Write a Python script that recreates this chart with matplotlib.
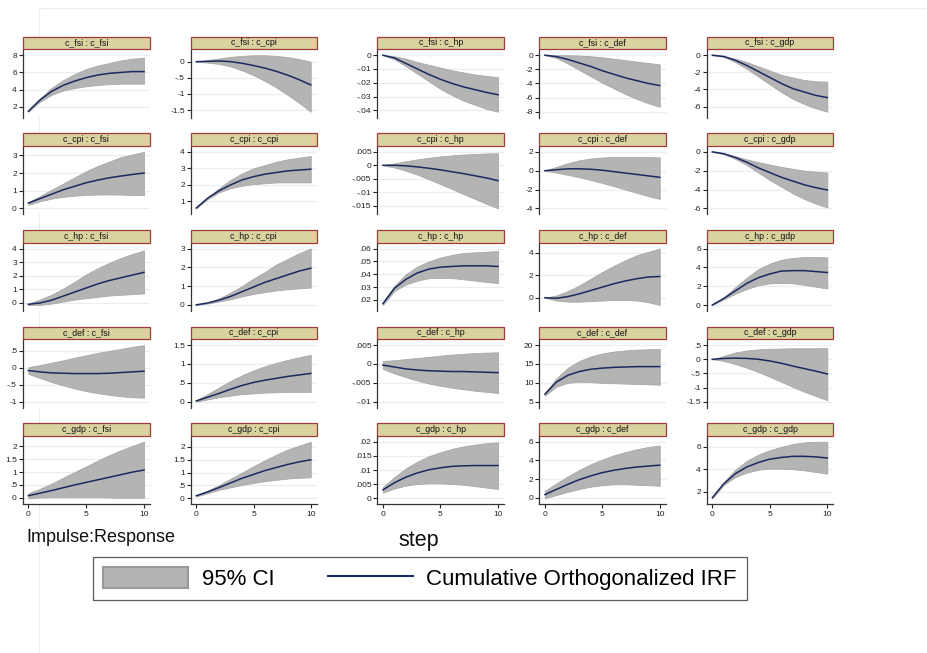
import matplotlib
matplotlib.use("Agg")
import matplotlib.pyplot as plt
from matplotlib.patches import Rectangle, Patch
from matplotlib.lines import Line2D

plt.rcParams['font.family'] = ['Liberation Sans', 'DejaVu Sans']

# ---------------- data ----------------
steps = [0, 1, 2, 3, 4, 5, 6, 7, 8, 9, 10]
variables = ["c_fsi", "c_cpi", "c_hp", "c_def", "c_gdp"]

# impulse c_fsi
fsi_fsi_irf = [1.5, 2.8, 3.8, 4.5, 5.0, 5.4, 5.7, 5.9, 6.0, 6.1, 6.1]
fsi_fsi_lo = [1.45, 2.6, 3.4, 3.9, 4.2, 4.4, 4.55, 4.65, 4.7, 4.7, 4.7]
fsi_fsi_hi = [1.55, 3.0, 4.2, 5.1, 5.8, 6.4, 6.8, 7.1, 7.4, 7.6, 7.7]
fsi_fsi_ticks = ["2", "4", "6", "8"]

fsi_cpi_irf = [0, 0.01, 0.02, 0.0, -0.05, -0.12, -0.2, -0.3, -0.42, -0.56, -0.72]
fsi_cpi_lo = [0, -0.03, -0.07, -0.15, -0.27, -0.42, -0.6, -0.8, -1.03, -1.28, -1.55]
fsi_cpi_hi = [0, 0.05, 0.1, 0.15, 0.18, 0.2, 0.2, 0.18, 0.14, 0.08, 0.0]
fsi_cpi_ticks = ["0", "-.5", "-1", "-1.5"]

fsi_hp_irf = [0, -0.002, -0.006, -0.010, -0.014, -0.0175, -0.0205, -0.023, -0.025, -0.027, -0.0287]
fsi_hp_lo = [0, -0.003, -0.008, -0.0135, -0.019, -0.0245, -0.029, -0.033, -0.036, -0.039, -0.041]
fsi_hp_hi = [0, -0.0008, -0.0025, -0.005, -0.007, -0.009, -0.011, -0.0125, -0.014, -0.015, -0.016]
fsi_hp_ticks = ["0", "-.01", "-.02", "-.03", "-.04"]

fsi_def_irf = [0, -0.2, -0.6, -1.1, -1.6, -2.2, -2.7, -3.2, -3.6, -4.0, -4.3]
fsi_def_lo = [0, -0.4, -1.2, -2.1, -3.0, -3.9, -4.7, -5.5, -6.2, -6.8, -7.3]
fsi_def_hi = [0, 0, 0, -0.05, -0.15, -0.3, -0.5, -0.7, -0.9, -1.1, -1.3]
fsi_def_ticks = ["0", "-2", "-4", "-6", "-8"]

fsi_gdp_irf = [0, -0.15, -0.6, -1.2, -1.9, -2.6, -3.3, -3.9, -4.3, -4.7, -4.95]
fsi_gdp_lo = [0, -0.2, -0.8, -1.6, -2.5, -3.4, -4.3, -5.1, -5.7, -6.2, -6.6]
fsi_gdp_hi = [0, -0.1, -0.4, -0.8, -1.3, -1.8, -2.3, -2.6, -2.9, -3.05, -3.1]
fsi_gdp_ticks = ["0", "-2", "-4", "-6"]

# impulse c_cpi
cpi_fsi_irf = [0.3, 0.55, 0.8, 1.05, 1.25, 1.45, 1.6, 1.73, 1.83, 1.92, 2.0]
cpi_fsi_lo = [0.2, 0.4, 0.55, 0.65, 0.72, 0.76, 0.78, 0.79, 0.78, 0.76, 0.75]
cpi_fsi_hi = [0.35, 0.7, 1.05, 1.4, 1.75, 2.1, 2.4, 2.65, 2.9, 3.05, 3.2]
cpi_fsi_ticks = ["0", "1", "2", "3"]

cpi_cpi_irf = [0.6, 1.2, 1.65, 2.0, 2.3, 2.5, 2.65, 2.75, 2.85, 2.9, 2.95]
cpi_cpi_lo = [0.58, 1.15, 1.55, 1.8, 1.95, 2.05, 2.1, 2.15, 2.15, 2.15, 2.15]
cpi_cpi_hi = [0.62, 1.25, 1.8, 2.3, 2.7, 3.0, 3.2, 3.4, 3.55, 3.65, 3.75]
cpi_cpi_ticks = ["1", "2", "3", "4"]

cpi_hp_irf = [0, 0, -0.0002, -0.0006, -0.0011, -0.0017, -0.0024, -0.0031, -0.0039, -0.0047, -0.0057]
cpi_hp_lo = [0, -0.0008, -0.002, -0.0035, -0.0052, -0.007, -0.0088, -0.0107, -0.0125, -0.0143, -0.016]
cpi_hp_hi = [0, 0.0007, 0.0015, 0.0022, 0.0028, 0.0033, 0.0037, 0.004, 0.0042, 0.0044, 0.0045]
cpi_hp_ticks = [".005", "0", "-.005", "-.01", "-.015"]

cpi_def_irf = [0, 0.1, 0.2, 0.2, 0.15, 0.05, -0.1, -0.25, -0.4, -0.55, -0.7]
cpi_def_lo = [0, -0.2, -0.45, -0.7, -1.0, -1.3, -1.65, -2.0, -2.35, -2.7, -3.0]
cpi_def_hi = [0, 0.4, 0.8, 1.1, 1.3, 1.4, 1.45, 1.45, 1.45, 1.45, 1.4]
cpi_def_ticks = ["2", "0", "-2", "-4"]

cpi_gdp_irf = [0, -0.2, -0.6, -1.1, -1.7, -2.2, -2.7, -3.1, -3.5, -3.8, -4.05]
cpi_gdp_lo = [0, -0.25, -0.75, -1.4, -2.2, -3.0, -3.7, -4.4, -5.0, -5.5, -5.9]
cpi_gdp_hi = [0, -0.15, -0.45, -0.8, -1.1, -1.35, -1.6, -1.8, -2.0, -2.1, -2.2]
cpi_gdp_ticks = ["0", "-2", "-4", "-6"]

# impulse c_hp
hp_fsi_irf = [-0.1, 0.0, 0.2, 0.5, 0.8, 1.1, 1.4, 1.65, 1.85, 2.05, 2.25]
hp_fsi_lo = [-0.15, -0.15, -0.05, 0.1, 0.25, 0.35, 0.45, 0.55, 0.6, 0.65, 0.7]
hp_fsi_hi = [-0.05, 0.25, 0.6, 1.05, 1.55, 2.1, 2.55, 2.95, 3.3, 3.6, 3.85]
hp_fsi_ticks = ["0", "1", "2", "3", "4"]

hp_cpi_irf = [0, 0.1, 0.25, 0.45, 0.7, 0.95, 1.2, 1.4, 1.6, 1.8, 1.95]
hp_cpi_lo = [-0.01, 0.07, 0.18, 0.3, 0.45, 0.58, 0.68, 0.77, 0.83, 0.88, 0.92]
hp_cpi_hi = [0.01, 0.12, 0.35, 0.65, 1.0, 1.4, 1.75, 2.15, 2.45, 2.75, 3.0]
hp_cpi_ticks = ["0", "1", "2", "3"]

hp_hp_irf = [0.017, 0.029, 0.036, 0.041, 0.044, 0.0455, 0.046, 0.0465, 0.0465, 0.0465, 0.046]
hp_hp_lo = [0.016, 0.027, 0.032, 0.035, 0.037, 0.037, 0.037, 0.036, 0.035, 0.034, 0.033]
hp_hp_hi = [0.018, 0.031, 0.040, 0.046, 0.050, 0.053, 0.055, 0.0565, 0.057, 0.0575, 0.058]
hp_hp_ticks = [".02", ".03", ".04", ".05", ".06"]

hp_def_irf = [0, -0.05, 0.1, 0.35, 0.65, 0.95, 1.25, 1.5, 1.7, 1.85, 1.9]
hp_def_lo = [0, -0.25, -0.35, -0.35, -0.3, -0.25, -0.2, -0.2, -0.25, -0.4, -0.65]
hp_def_hi = [0, 0.2, 0.6, 1.1, 1.7, 2.3, 2.85, 3.35, 3.8, 4.1, 4.4]
hp_def_ticks = ["0", "2", "4"]

hp_gdp_irf = [0, 0.7, 1.5, 2.3, 2.9, 3.3, 3.6, 3.65, 3.65, 3.55, 3.45]
hp_gdp_lo = [0, 0.6, 1.2, 1.7, 2.1, 2.3, 2.35, 2.3, 2.15, 1.95, 1.75]
hp_gdp_hi = [0, 0.8, 1.9, 2.9, 3.8, 4.4, 4.8, 5.0, 5.1, 5.1, 5.05]
hp_gdp_ticks = ["0", "2", "4", "6"]

# impulse c_def
def_fsi_irf = [-0.08, -0.12, -0.15, -0.16, -0.17, -0.17, -0.17, -0.16, -0.14, -0.12, -0.1]
def_fsi_lo = [-0.18, -0.3, -0.42, -0.52, -0.61, -0.69, -0.75, -0.8, -0.84, -0.87, -0.88]
def_fsi_hi = [0.02, 0.08, 0.15, 0.22, 0.3, 0.37, 0.44, 0.5, 0.56, 0.62, 0.67]
def_fsi_ticks = [".5", "0", "-.5", "-1"]

def_cpi_irf = [0.02, 0.12, 0.22, 0.33, 0.43, 0.51, 0.57, 0.62, 0.67, 0.71, 0.75]
def_cpi_lo = [0.0, 0.06, 0.12, 0.16, 0.2, 0.22, 0.24, 0.25, 0.26, 0.26, 0.26]
def_cpi_hi = [0.04, 0.2, 0.38, 0.55, 0.7, 0.83, 0.94, 1.03, 1.11, 1.18, 1.24]
def_cpi_ticks = ["0", ".5", "1", "1.5"]

def_hp_irf = [-0.0003, -0.0008, -0.0013, -0.0016, -0.0018, -0.0019, -0.002, -0.002, -0.0021, -0.0022, -0.0023]
def_hp_lo = [-0.0013, -0.0025, -0.0035, -0.0044, -0.0052, -0.0058, -0.0063, -0.0067, -0.0071, -0.0074, -0.0077]
def_hp_hi = [0.0008, 0.001, 0.0013, 0.0016, 0.0019, 0.0022, 0.0025, 0.0027, 0.0029, 0.003, 0.0031]
def_hp_ticks = [".005", "0", "-.005", "-.01"]

def_def_irf = [7.0, 10.2, 12.0, 13.0, 13.6, 13.9, 14.1, 14.2, 14.3, 14.3, 14.3]
def_def_lo = [6.6, 9.0, 10.0, 10.3, 10.2, 10.0, 9.9, 9.8, 9.7, 9.6, 9.5]
def_def_hi = [7.2, 11.2, 14.0, 15.8, 17.0, 17.8, 18.3, 18.6, 18.8, 18.9, 19.0]
def_def_ticks = ["5", "10", "15", "20"]

def_gdp_irf = [0, 0.03, 0.04, 0.03, 0.0, -0.06, -0.14, -0.24, -0.33, -0.42, -0.52]
def_gdp_lo = [0, -0.06, -0.17, -0.3, -0.45, -0.62, -0.8, -0.98, -1.15, -1.3, -1.45]
def_gdp_hi = [0, 0.12, 0.24, 0.31, 0.35, 0.37, 0.38, 0.39, 0.39, 0.39, 0.4]
def_gdp_ticks = [".5", "0", "-.5", "-1", "-1.5"]

# impulse c_gdp
gdp_fsi_irf = [0.08, 0.18, 0.28, 0.39, 0.5, 0.6, 0.7, 0.8, 0.9, 1.0, 1.08]
gdp_fsi_lo = [-0.02, 0.01, 0.02, 0.02, 0.02, 0.02, 0.02, 0.01, 0.0, 0.0, 0.0]
gdp_fsi_hi = [0.18, 0.35, 0.55, 0.78, 1.0, 1.22, 1.45, 1.66, 1.85, 2.02, 2.18]
gdp_fsi_ticks = ["0", ".5", "1", "1.5", "2"]

gdp_cpi_irf = [0.1, 0.25, 0.42, 0.6, 0.78, 0.93, 1.08, 1.2, 1.32, 1.42, 1.5]
gdp_cpi_lo = [0.07, 0.2, 0.33, 0.43, 0.52, 0.6, 0.67, 0.72, 0.77, 0.8, 0.82]
gdp_cpi_hi = [0.13, 0.3, 0.52, 0.76, 1.0, 1.25, 1.48, 1.7, 1.9, 2.05, 2.2]
gdp_cpi_ticks = ["0", ".5", "1", "1.5", "2"]

gdp_hp_irf = [0.003, 0.0055, 0.0075, 0.009, 0.0101, 0.0108, 0.0113, 0.0115, 0.0116, 0.0116, 0.0116]
gdp_hp_lo = [0.002, 0.0035, 0.0045, 0.0051, 0.0053, 0.0053, 0.0051, 0.0048, 0.0043, 0.0038, 0.0033]
gdp_hp_hi = [0.004, 0.0075, 0.0106, 0.013, 0.0149, 0.0163, 0.0175, 0.0184, 0.019, 0.0195, 0.0198]
gdp_hp_ticks = ["0", ".005", ".01", ".015", ".02"]

gdp_def_irf = [0.35, 0.9, 1.45, 1.95, 2.35, 2.7, 2.95, 3.15, 3.3, 3.4, 3.5]
gdp_def_lo = [-0.05, 0.3, 0.65, 0.95, 1.2, 1.35, 1.45, 1.45, 1.4, 1.35, 1.3]
gdp_def_hi = [0.75, 1.55, 2.3, 3.0, 3.6, 4.1, 4.55, 4.9, 5.2, 5.45, 5.6]
gdp_def_ticks = ["0", "2", "4", "6"]

gdp_gdp_irf = [1.45, 2.7, 3.6, 4.2, 4.6, 4.9, 5.05, 5.15, 5.15, 5.1, 5.0]
gdp_gdp_lo = [1.4, 2.6, 3.3, 3.7, 3.95, 4.05, 4.05, 4.0, 3.9, 3.75, 3.6]
gdp_gdp_hi = [1.5, 2.85, 3.95, 4.75, 5.3, 5.7, 6.0, 6.25, 6.4, 6.45, 6.45]
gdp_gdp_ticks = ["2", "4", "6"]

x_ticks = [0, 5, 10]

g = globals()
panels = {}
for imp in variables:
    for resp in variables:
        a, b = imp[2:], resp[2:]
        panels[(imp, resp)] = (g[f"{a}_{b}_irf"], g[f"{a}_{b}_lo"],
                               g[f"{a}_{b}_hi"], g[f"{a}_{b}_ticks"])

# ---------------- layout / style ----------------
W, H = 928, 653
fig = plt.figure(figsize=(W / 100, H / 100), dpi=100)
fig.patch.set_facecolor("white")

col_left = [22.7, 190.7, 377.3, 539.3, 706.7]
col_right = [150.0, 316.7, 504.0, 665.7, 833.3]
strip_top0, row_pitch = 36.7, 96.65
strip_h, ax_h = 12.5, 68.5

band_color = "#B4B4B4"
band_edge = "#A8A8A8"
line_color = "#1B2A5E"
grid_color = "#E6EFF1"
strip_face = "#D9D3A0"
strip_edge = "#A33A3A"
axis_color = "#333333"

# faint outer frame lines
fig.add_artist(Line2D([39.5 / W, 39.5 / W], [0, 1 - 8 / H], color="#ECECEC", lw=0.8, zorder=-5))
fig.add_artist(Line2D([39.5 / W, 1], [1 - 8 / H, 1 - 8 / H], color="#ECECEC", lw=0.8, zorder=-5))

for i, imp in enumerate(variables):
    for j, resp in enumerate(variables):
        irf, lo, hi, tks = panels[(imp, resp)]
        left, right = col_left[j], col_right[j]
        top = strip_top0 + row_pitch * i + strip_h
        bottom = top + ax_h
        ax = fig.add_axes([left / W, 1 - bottom / H, (right - left) / W, ax_h / H])
        ax.set_facecolor("white")
        ax.fill_between(steps, lo, hi, facecolor=band_color, edgecolor=band_edge,
                        lw=0.6, zorder=2)
        ax.plot(steps, irf, color=line_color, lw=1.1, zorder=3)

        yt = [float(s) for s in tks]
        dmin = min(min(lo), min(yt))
        dmax = max(max(hi), max(yt))
        pad = (dmax - dmin) * 6.0 / (ax_h - 12.0)
        ax.set_ylim(dmin - pad, dmax + pad)
        ax.set_xlim(-0.49, 10.52)
        ax.set_yticks(yt)
        ax.set_yticklabels(tks)
        for y in yt:
            ax.axhline(y, color=grid_color, lw=0.9, zorder=1)

        for s in ("top", "right"):
            ax.spines[s].set_visible(False)
        ax.spines["left"].set_color(axis_color)
        ax.spines["left"].set_linewidth(0.9)
        ax.tick_params(axis="y", length=3, width=0.8, pad=1.2, labelsize=6,
                       colors="#222222")
        if i == len(variables) - 1:
            ax.spines["bottom"].set_color(axis_color)
            ax.spines["bottom"].set_linewidth(0.9)
            ax.set_xticks(x_ticks)
            ax.set_xticklabels([str(v) for v in x_ticks])
            ax.tick_params(axis="x", length=3, width=0.8, pad=2, labelsize=6,
                           colors="#222222")
        else:
            ax.spines["bottom"].set_visible(False)
            ax.set_xticks([])

        sh = strip_h / ax_h
        ax.add_patch(Rectangle((0, 1), 1, sh, transform=ax.transAxes, clip_on=False,
                               facecolor=strip_face, edgecolor=strip_edge, lw=0.9,
                               zorder=5))
        ax.text(0.5, 1 + sh / 2, f"{imp} : {resp}", transform=ax.transAxes,
                ha="center", va="center", fontsize=6.3, color="#111111", zorder=6)

fig.text(26.7 / W, 1 - 541.5 / H, "Impulse:Response", fontsize=13, ha="left",
         va="baseline", color="#111111")
fig.text(419 / W, 1 - 546 / H, "step", fontsize=15.5, ha="center", va="baseline",
         color="#111111")

handles = [Patch(facecolor=band_color, edgecolor="#999999", lw=1.5),
           Line2D([0], [0], color=line_color, lw=1.5)]
labels = ["95% CI", "Cumulative Orthogonalized IRF"]
leg = fig.legend(handles, labels, loc="center",
                 bbox_to_anchor=(92.7 / W, 1 - 600 / H, (747 - 92.7) / W, 43 / H),
                 bbox_transform=fig.transFigure, ncol=2, mode="expand",
                 fontsize=16, frameon=True, fancybox=False, borderaxespad=0,
                 borderpad=0.45, handlelength=3.85, handleheight=1.05,
                 handletextpad=0.6, columnspacing=1.6)
leg.get_frame().set_edgecolor("#333333")
leg.get_frame().set_linewidth(0.9)

fig.savefig("out.png", dpi=100, facecolor="white")
